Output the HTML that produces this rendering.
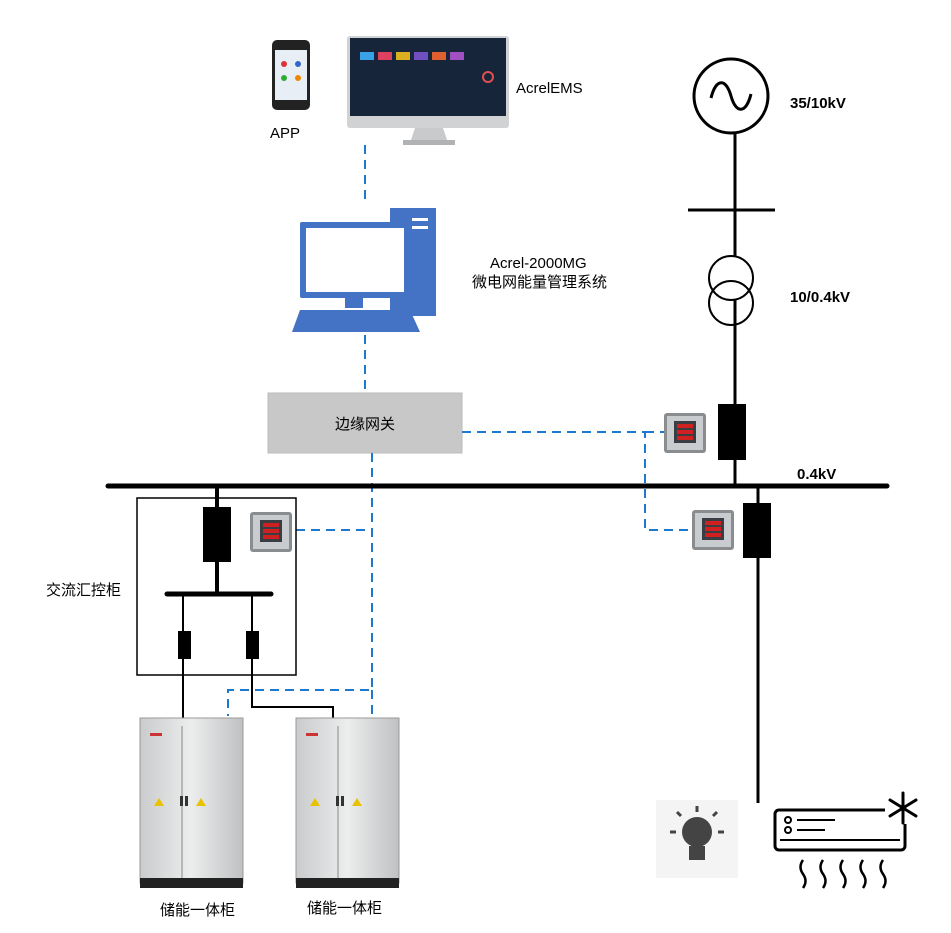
<!DOCTYPE html>
<html><head><meta charset="utf-8"><style>
body{margin:0;background:#fff}
svg{display:block}
text{font-family:"Liberation Sans","Noto Sans CJK SC",sans-serif;font-size:15px;fill:#000}
</style></head><body>
<svg width="951" height="933" viewBox="0 0 951 933" xmlns="http://www.w3.org/2000/svg">
<defs>
<linearGradient id="cab" x1="0" x2="1"><stop offset="0" stop-color="#c9cbcc"/><stop offset="0.5" stop-color="#eceded"/><stop offset="1" stop-color="#bfc1c2"/></linearGradient>
<g id="meter"><rect x="0" y="0" width="42" height="40" rx="3" fill="#8a8d90"/><rect x="3" y="3" width="36" height="34" fill="#c9ccce"/><rect x="10" y="8" width="22" height="22" fill="#3a3d44"/><rect x="13" y="11" width="16" height="4" fill="#d02020"/><rect x="13" y="17" width="16" height="4" fill="#d02020"/><rect x="13" y="23" width="16" height="4" fill="#d02020"/></g>
<g id="cabinet"><rect x="0" y="0" width="103" height="165" fill="url(#cab)" stroke="#999"/><line x1="42" y1="8" x2="42" y2="160" stroke="#888"/><rect x="0" y="160" width="103" height="10" fill="#222"/><rect x="40" y="78" width="3" height="10" fill="#333"/><rect x="45" y="78" width="3" height="10" fill="#333"/><polygon points="14,88 19,80 24,88" fill="#e8c200"/><polygon points="56,88 61,80 66,88" fill="#e8c200"/><rect x="10" y="15" width="12" height="3" fill="#c33"/></g>
</defs>
<!-- phone -->
<rect x="272" y="40" width="38" height="70" rx="5" fill="#222"/>
<rect x="275" y="50" width="32" height="50" fill="#e8eef5"/>
<circle cx="284" cy="64" r="3" fill="#d33"/><circle cx="298" cy="64" r="3" fill="#36c"/><circle cx="284" cy="78" r="3" fill="#3a3"/><circle cx="298" cy="78" r="3" fill="#e80"/>
<text x="270" y="138" font-size="16">APP</text>
<!-- monitor -->
<rect x="347" y="36" width="162" height="92" rx="3" fill="#d0d2d4"/>
<rect x="350" y="38" width="156" height="78" fill="#17253a"/>
<rect x="360" y="52" width="14" height="8" fill="#3aa0e8"/><rect x="378" y="52" width="14" height="8" fill="#e04060"/><rect x="396" y="52" width="14" height="8" fill="#d8b020"/><rect x="414" y="52" width="14" height="8" fill="#7050c0"/><rect x="432" y="52" width="14" height="8" fill="#e06030"/><rect x="450" y="52" width="14" height="8" fill="#a050c0"/>
<circle cx="488" cy="77" r="5" fill="none" stroke="#e05050" stroke-width="2"/>
<polygon points="415,128 443,128 447,140 411,140" fill="#c8cacc"/><rect x="403" y="140" width="52" height="5" fill="#b0b2b4"/>
<text x="516" y="93" font-size="16">AcrelEMS</text>
<!-- generator side -->
<circle cx="731" cy="96" r="37" fill="#fff" stroke="#000" stroke-width="3"/>
<path d="M711,98 C716,78 726,78 731,96 C736,114 746,114 751,94" fill="none" stroke="#000" stroke-width="3"/>
<line x1="735" y1="133" x2="735" y2="486" stroke="#000" stroke-width="3"/>
<line x1="688" y1="210" x2="775" y2="210" stroke="#000" stroke-width="3"/>
<circle cx="731" cy="278" r="22" fill="#fff" stroke="#000" stroke-width="2"/>
<circle cx="731" cy="303" r="22" fill="none" stroke="#000" stroke-width="2"/>
<rect x="718" y="404" width="28" height="56" fill="#000"/>
<text x="790" y="108" font-weight="bold" font-size="16">35/10kV</text>
<text x="790" y="302" font-weight="bold" font-size="16">10/0.4kV</text>
<text x="797" y="479" font-weight="bold" font-size="16">0.4kV</text>
<!-- PC -->
<g fill="#4472c4">
<rect x="390" y="208" width="46" height="108"/>
<rect x="300" y="222" width="110" height="76" rx="2"/>
<rect x="345" y="298" width="18" height="10"/>
<polygon points="300,310 410,310 420,332 292,332"/>
</g>
<rect x="306" y="228" width="98" height="64" fill="#fff"/>
<rect x="412" y="218" width="16" height="3" fill="#fff"/><rect x="412" y="226" width="16" height="3" fill="#fff"/>
<text x="490" y="268" font-size="15">Acrel-2000MG</text>
<text x="472" y="287" font-size="15">微电网能量管理系统</text>
<!-- gateway -->
<rect x="268" y="393" width="194" height="60" fill="#c8c8c8" stroke="#bbb"/>
<text x="365" y="429" text-anchor="middle" font-size="16">边缘网关</text>
<!-- dashed -->
<g stroke="#1f78d0" stroke-width="2" stroke-dasharray="9,6" fill="none">
<line x1="365" y1="145" x2="365" y2="205"/>
<line x1="365" y1="335" x2="365" y2="393"/>
<polyline points="462,432 645,432 645,530 692,530"/>
<line x1="645" y1="432" x2="664" y2="432"/>
<polyline points="372,453 372,690 228,690 228,716"/>
<line x1="296" y1="530" x2="372" y2="530"/>
<line x1="372" y1="690" x2="372" y2="716"/>
</g>
<use href="#meter" x="664" y="413"/>
<use href="#meter" x="692" y="510"/>
<!-- bus -->
<line x1="108" y1="486" x2="887" y2="486" stroke="#000" stroke-width="5" stroke-linecap="round"/>
<line x1="758" y1="486" x2="758" y2="803" stroke="#000" stroke-width="3"/>
<rect x="743" y="503" width="28" height="55" fill="#000"/>
<!-- AC cabinet -->
<rect x="137" y="498" width="159" height="177" fill="none" stroke="#000" stroke-width="1.5"/>
<line x1="217" y1="486" x2="217" y2="594" stroke="#000" stroke-width="4"/>
<rect x="203" y="507" width="28" height="55" fill="#000"/>
<line x1="167" y1="594" x2="271" y2="594" stroke="#000" stroke-width="5" stroke-linecap="round"/>
<line x1="183" y1="594" x2="183" y2="720" stroke="#000" stroke-width="2"/>
<polyline points="252,594 252,707 333,707 333,720" fill="none" stroke="#000" stroke-width="2"/>
<rect x="178" y="631" width="13" height="28" fill="#000"/>
<rect x="246" y="631" width="13" height="28" fill="#000"/>
<use href="#meter" x="250" y="512"/>
<text x="46" y="595" font-size="15">交流汇控柜</text>
<!-- cabinets -->
<use href="#cabinet" x="140" y="718"/>
<use href="#cabinet" x="296" y="718"/>
<text x="160" y="915" font-size="15">储能一体柜</text>
<text x="307" y="913" font-size="15">储能一体柜</text>
<!-- load -->
<rect x="656" y="800" width="82" height="78" fill="#f4f4f4"/>
<circle cx="697" cy="832" r="15" fill="#444"/>
<rect x="689" y="846" width="16" height="14" fill="#444"/>
<g stroke="#444" stroke-width="3"><line x1="697" y1="806" x2="697" y2="812"/><line x1="670" y1="832" x2="676" y2="832"/><line x1="718" y1="832" x2="724" y2="832"/><line x1="677" y1="812" x2="681" y2="816"/><line x1="717" y1="812" x2="713" y2="816"/></g>
<rect x="775" y="810" width="130" height="40" rx="4" fill="#fff" stroke="#000" stroke-width="3"/>
<line x1="780" y1="840" x2="900" y2="840" stroke="#000" stroke-width="2"/>
<circle cx="788" cy="820" r="3" fill="none" stroke="#000" stroke-width="2"/><circle cx="788" cy="830" r="3" fill="none" stroke="#000" stroke-width="2"/>
<line x1="797" y1="820" x2="835" y2="820" stroke="#000" stroke-width="2"/><line x1="797" y1="830" x2="825" y2="830" stroke="#000" stroke-width="2"/>
<g stroke="#000" stroke-width="2.5" fill="none"><path d="M803,860 q-5,7 0,14 q5,7 0,14"/><path d="M823,860 q-5,7 0,14 q5,7 0,14"/><path d="M843,860 q-5,7 0,14 q5,7 0,14"/><path d="M863,860 q-5,7 0,14 q5,7 0,14"/><path d="M883,860 q-5,7 0,14 q5,7 0,14"/></g>
<rect x="885" y="792" width="36" height="32" fill="#fff"/>
<g stroke="#000" stroke-width="3" stroke-linecap="round"><line x1="903" y1="793" x2="903" y2="823"/><line x1="890" y1="800" x2="916" y2="816"/><line x1="890" y1="816" x2="916" y2="800"/></g>
</svg>
</body></html>
